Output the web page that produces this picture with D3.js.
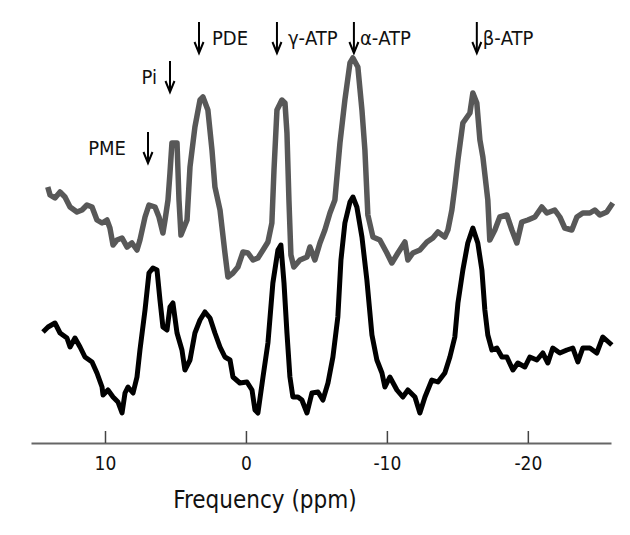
<!DOCTYPE html>
<html>
<head>
<meta charset="utf-8">
<script src="https://cdnjs.cloudflare.com/ajax/libs/d3/7.8.5/d3.min.js"></script>
<style>
  body { margin: 0; background: #fff; }
  svg { display: block; }
  text { font-family: "DejaVu Sans Condensed", "DejaVu Sans", sans-serif; fill: #111; }
</style>
</head>
<body>
<div id="chart"></div>
<script>
// chemical shift (ppm) and intensity (a.u.)
const grayPpm = [14.06,13.90,13.55,13.19,12.84,12.48,11.99,11.63,11.28,10.92,10.57,10.21,9.86,9.65,9.43,9.15,8.79,8.44,8.09,7.73,7.52,7.16,6.88,6.45,6.17,5.89,5.74,5.53,5.39,5.25,4.89,4.75,4.61,4.18,3.97,3.62,3.26,3.05,2.70,2.41,2.20,1.84,1.49,1.28,0.92,0.57,0.21,-0.14,-0.50,-0.85,-1.21,-1.56,-1.84,-1.99,-2.20,-2.55,-2.77,-2.91,-3.05,-3.19,-3.40,-3.83,-4.33,-4.54,-4.89,-5.25,-5.60,-5.96,-6.31,-6.67,-7.02,-7.38,-7.59,-7.94,-8.23,-8.44,-8.65,-9.01,-9.50,-10.00,-10.35,-10.78,-11.28,-11.49,-11.84,-12.34,-12.84,-13.26,-13.62,-14.11,-14.33,-14.61,-14.82,-15.04,-15.39,-15.89,-16.10,-16.38,-16.60,-16.81,-17.16,-17.30,-17.66,-18.01,-18.51,-18.87,-19.22,-19.57,-20.00,-20.50,-20.99,-21.35,-21.91,-22.27,-22.62,-23.12,-23.48,-23.90,-24.40,-24.75,-25.11,-25.60,-26.03];
const grayInt = [243,235,232,238,233,223,218,220,225,223,210,207,210,202,185,190,192,183,187,180,190,213,225,223,213,197,210,230,257,287,287,230,195,210,263,303,330,333,320,280,243,220,177,153,157,163,178,177,170,172,180,188,207,260,320,330,327,297,230,175,163,170,173,183,170,187,200,217,230,287,330,367,372,363,320,280,215,193,190,177,167,177,188,170,177,180,188,192,198,193,200,220,243,270,307,317,337,327,290,273,230,190,200,213,215,200,187,208,210,213,223,217,220,213,202,200,213,217,217,220,215,218,227];

const blackPpm = [14.40,14.04,13.55,13.19,12.70,12.48,12.13,11.77,11.42,10.92,10.57,10.21,10.14,9.79,9.43,9.08,8.79,8.58,8.37,8.01,7.73,7.52,7.16,6.88,6.60,6.31,6.10,5.89,5.60,5.39,5.18,4.89,4.54,4.33,3.97,3.62,3.26,2.91,2.55,2.20,1.84,1.49,1.13,0.92,0.43,-0.07,-0.43,-0.64,-0.85,-1.21,-1.56,-1.91,-2.27,-2.48,-2.70,-2.91,-3.12,-3.33,-3.69,-3.97,-4.33,-4.68,-5.11,-5.46,-5.82,-6.17,-6.52,-6.74,-7.02,-7.38,-7.59,-7.87,-8.23,-8.58,-8.94,-9.29,-9.65,-9.86,-10.21,-10.71,-11.13,-11.49,-11.99,-12.34,-12.70,-13.19,-13.62,-14.11,-14.47,-14.82,-15.04,-15.39,-15.74,-16.10,-16.45,-16.74,-16.95,-17.16,-17.45,-17.80,-18.16,-18.51,-18.94,-19.29,-19.79,-20.14,-20.64,-21.06,-21.42,-21.77,-22.27,-22.77,-23.19,-23.55,-23.90,-24.40,-24.89,-25.32,-25.96];
const blackInt = [98,103,107,97,92,83,92,83,73,68,57,43,35,40,33,28,17,37,43,37,53,80,120,157,162,160,130,103,100,123,127,97,80,60,70,97,110,118,112,97,83,73,70,53,47,48,40,20,17,53,87,147,180,185,147,97,53,33,33,30,17,37,38,30,47,73,113,170,207,228,233,223,193,150,95,70,57,43,53,40,33,40,33,17,33,50,48,57,73,93,127,160,187,202,187,160,120,95,80,82,73,73,60,67,63,73,70,77,67,82,77,80,82,68,82,82,77,93,85];

const peakNames = ["PME", "Pi", "PDE", "\u03b3-ATP", "\u03b1-ATP", "\u03b2-ATP"];
const peakPpm = [6.95, 5.39, 3.33, -2.20, -7.66, -16.38];

const xTicks = [10, 0, -10, -20];
const xTitle = "Frequency (ppm)";

const width = 630, height = 535;

const x = d3.scaleLinear().domain([15.25, -25.9]).range([31, 611]);
const y = d3.scaleLinear().domain([0, 400]).range([430, 30]);

const svg = d3.select("#chart").append("svg")
  .attr("width", width)
  .attr("height", height);

const line = d3.line()
  .x(d => x(d[0]))
  .y(d => y(d[1]));

const gray = grayPpm.map((p, i) => [p, grayInt[i]]);
const black = blackPpm.map((p, i) => [p, blackInt[i]]);

svg.append("path")
  .datum(gray)
  .attr("d", line)
  .attr("fill", "none")
  .attr("stroke", "#585858")
  .attr("stroke-width", 5.5)
  .attr("stroke-linejoin", "round");

svg.append("path")
  .datum(black)
  .attr("d", line)
  .attr("fill", "none")
  .attr("stroke", "#000")
  .attr("stroke-width", 5)
  .attr("stroke-linejoin", "round");

// axis, plain hyphen for negatives like the original
const axis = svg.append("g")
  .attr("transform", "translate(0,443)")
  .call(d3.axisBottom(x)
    .tickValues(xTicks)
    .tickFormat(d => String(d))
    .tickSizeInner(-12)
    .tickSizeOuter(0)
    .tickPadding(14));

axis.select(".domain").attr("stroke", "#666").attr("stroke-width", 2);
axis.selectAll(".tick line").attr("stroke", "#444").attr("stroke-width", 1.5);
axis.selectAll(".tick text")
  .attr("font-size", 19)
  .attr("font-family", "DejaVu Sans Condensed, DejaVu Sans, sans-serif")
  .attr("fill", "#111");

svg.append("text")
  .attr("x", 265)
  .attr("y", 508)
  .attr("text-anchor", "middle")
  .attr("font-size", 24)
  .text(xTitle);

// peak annotations: arrow top, label on left or right side
const arrowTop = [132, 61, 22, 22, 22, 22];
const labelLeft = [true, true, false, false, false, false];
const labelGap = [22, 13, 13, 11, 6, 6];

peakNames.forEach((name, i) => {
  const ax = x(peakPpm[i]);
  const top = arrowTop[i];
  const g = svg.append("g");
  g.append("line")
    .attr("x1", ax).attr("x2", ax)
    .attr("y1", top).attr("y2", top + 28)
    .attr("stroke", "#000")
    .attr("stroke-width", 2);
  g.append("path")
    .attr("d", `M${ax - 4.5},${top + 20} L${ax},${top + 31} L${ax + 4.5},${top + 20}`)
    .attr("fill", "none")
    .attr("stroke", "#000")
    .attr("stroke-width", 2);
  g.append("text")
    .attr("x", labelLeft[i] ? ax - labelGap[i] : ax + labelGap[i])
    .attr("y", top + 16)
    .attr("dy", "0.35em")
    .attr("text-anchor", labelLeft[i] ? "end" : "start")
    .attr("font-size", 20)
    .text(name);
});
</script>
</body>
</html>
